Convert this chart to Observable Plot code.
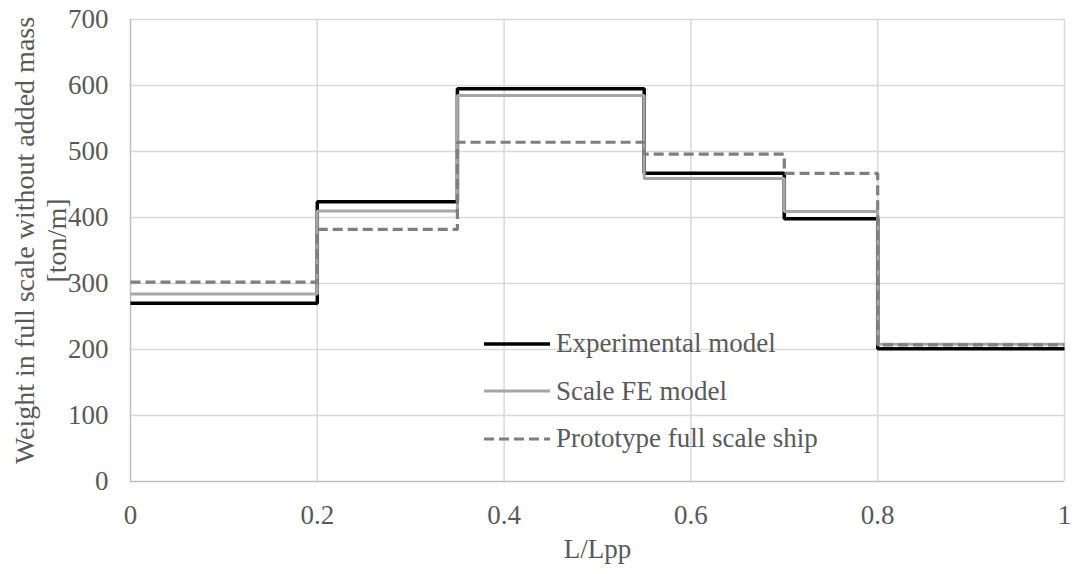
<!DOCTYPE html>
<html>
<head>
<meta charset="utf-8">
<script src="https://cdn.jsdelivr.net/npm/d3@7"></script>
<script src="https://cdn.jsdelivr.net/npm/@observablehq/plot@0.6"></script>
<style>
  html, body { margin: 0; padding: 0; background: #fff; }
  #wrap { position: relative; width: 1072px; height: 574px; font-family: "Liberation Serif", "Times New Roman", serif; }
  #legend { position: absolute; left: 484px; top: 320px; color: #595959; font-size: 27px; }
  .row { display: flex; align-items: center; height: 47.5px; }
  .row svg { margin-right: 6px; }
</style>
</head>
<body>
<div id="wrap"></div>
<script>
// Segment breakpoints along L/Lpp
const breaks = [0, 0.2, 0.35, 0.55, 0.7, 0.8, 1];
// Segment levels (ton/m) for each series
const experimental = [270, 424, 595, 467, 398, 201];
const scaleFE      = [284, 410, 585, 459, 409, 208];
const prototype    = [302, 382, 514, 496, 467, 207];
const seriesNames = ["Experimental model", "Scale FE model", "Prototype full scale ship"];
const xTicks = [0, 0.2, 0.4, 0.6, 0.8, 1];
const yTicks = [0, 100, 200, 300, 400, 500, 600, 700];

const styles = {
  "Experimental model": {stroke: "#000000", strokeWidth: 3.5, dash: null},
  "Scale FE model": {stroke: "#a6a6a6", strokeWidth: 3, dash: null},
  "Prototype full scale ship": {stroke: "#7f7f7f", strokeWidth: 3.2, dash: "10,5"}
};

function steps(levels, name) {
  const pts = [];
  levels.forEach((v, i) => {
    pts.push({x: breaks[i], y: v, s: name});
    pts.push({x: breaks[i + 1], y: v, s: name});
  });
  return pts;
}
const allSeries = [experimental, scaleFE, prototype].map((lv, i) => steps(lv, seriesNames[i]));

const font = '"Liberation Serif", "Times New Roman", serif';
const chart = Plot.plot({
  width: 1072,
  height: 574,
  marginLeft: 130,
  marginRight: 8,
  marginTop: 19,
  marginBottom: 93,
  style: {fontFamily: font, fontSize: "27px", color: "#595959", background: "#fff", overflow: "visible"},
  x: {domain: [0, 1], ticks: xTicks, tickFormat: d => String(d), label: null},
  y: {domain: [0, 700], ticks: yTicks, label: null},
  marks: [
    Plot.gridX(xTicks.filter(d => d > 0), {stroke: "#d9d9d9", strokeOpacity: 1, strokeWidth: 1.5}),
    Plot.gridY(yTicks.filter(d => d > 0), {stroke: "#d9d9d9", strokeOpacity: 1, strokeWidth: 1.5}),
    Plot.ruleX([0], {stroke: "#bfbfbf", strokeWidth: 1.5}),
    Plot.ruleY([0], {stroke: "#bfbfbf", strokeWidth: 1.5}),
    Plot.axisX({ticks: xTicks, tickFormat: d => String(d), tickSize: 0, tickPadding: 23, fontSize: 27, fill: "#595959", label: null}),
    Plot.axisY({ticks: yTicks, tickSize: 0, tickPadding: 22, fontSize: 27, fill: "#595959", label: null}),
    ...allSeries.map((pts, i) => {
      const st = styles[seriesNames[i]];
      return Plot.line(pts, {x: "x", y: "y", stroke: st.stroke, strokeWidth: st.strokeWidth,
        strokeDasharray: st.dash, strokeLinejoin: "miter", strokeLinecap: "butt"});
    }),
    Plot.text(["Weight in full scale without added mass\n[ton/m]"], {
      frameAnchor: "left", text: d => d, rotate: -90, dx: -91, dy: -10, fontSize: 28,
      fill: "#595959", lineHeight: 1.15, textAnchor: "middle", lineAnchor: "middle"
    }),
    Plot.text(["L/Lpp"], {
      frameAnchor: "bottom", text: d => d, dy: 68, fontSize: 27, fill: "#595959", lineAnchor: "middle"
    })
  ]
});

const wrap = document.getElementById("wrap");
wrap.appendChild(chart);

const legend = document.createElement("div");
legend.id = "legend";
seriesNames.forEach(name => {
  const st = styles[name];
  const row = document.createElement("div");
  row.className = "row";
  row.innerHTML = `<svg width="66" height="10"><line x1="0" y1="5" x2="66" y2="5" stroke="${st.stroke}" stroke-width="${st.strokeWidth}" ${st.dash ? `stroke-dasharray="${st.dash}"` : ""}/></svg><span>${name}</span>`;
  legend.appendChild(row);
});
wrap.appendChild(legend);
</script>
</body>
</html>
